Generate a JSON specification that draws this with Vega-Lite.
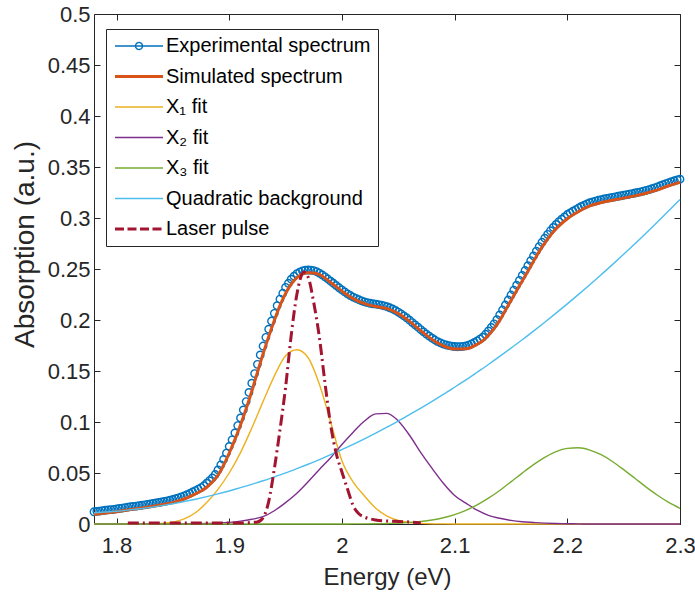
{
 "$schema": "https://vega.github.io/schema/vega-lite/v6.json",
 "width": 586, "height": 510,
 "autosize": {"type": "none"},
 "padding": {"left": 94, "top": 14, "right": 15, "bottom": 72},
 "background": "white",
 "config": {
  "view": {"stroke": "#262626", "strokeWidth": 1},
  "font": "Liberation Sans",
  "axis": {"grid": false, "domain": false, "tickColor": "#262626", "tickSize": 6, "offset": -6, "labelFlush": false, "labelColor": "#262626", "titleColor": "#262626", "labelFont": "Liberation Sans", "titleFont": "Liberation Sans", "labelFontSize": 22, "titleFontWeight": "normal"},
  "legend": {"orient": "none", "legendX": 12, "legendY": 15, "padding": 7, "strokeColor": "#262626", "fillColor": "white", "labelFontSize": 20, "labelFont": "Liberation Sans", "labelColor": "#000000", "labelLimit": 0, "symbolSize": 400, "symbolType": "M-2.4,0L2.4,0", "labelOffset": 17, "symbolOffset": 16, "rowPadding": 10.5}
 },
 "datasets": {
  "exp": [
{"E":1.7800,"A":0.0120},{"E":1.7825,"A":0.0124},{"E":1.7850,"A":0.0127},{"E":1.7875,"A":0.0131},{"E":1.7900,"A":0.0135},{"E":1.7925,"A":0.0138},{"E":1.7950,"A":0.0141},{"E":1.7975,"A":0.0144},{"E":1.8000,"A":0.0148},{"E":1.8025,"A":0.0152},{"E":1.8050,"A":0.0156},{"E":1.8075,"A":0.0161},{"E":1.8100,"A":0.0166},{"E":1.8125,"A":0.0170},{"E":1.8150,"A":0.0173},{"E":1.8175,"A":0.0176},{"E":1.8200,"A":0.0180},{"E":1.8225,"A":0.0184},{"E":1.8250,"A":0.0188},{"E":1.8275,"A":0.0192},{"E":1.8300,"A":0.0197},{"E":1.8325,"A":0.0202},{"E":1.8350,"A":0.0207},{"E":1.8375,"A":0.0212},{"E":1.8400,"A":0.0216},{"E":1.8425,"A":0.0221},{"E":1.8450,"A":0.0227},{"E":1.8475,"A":0.0233},{"E":1.8500,"A":0.0240},{"E":1.8525,"A":0.0248},{"E":1.8550,"A":0.0257},{"E":1.8575,"A":0.0266},{"E":1.8600,"A":0.0276},{"E":1.8625,"A":0.0287},{"E":1.8650,"A":0.0300},{"E":1.8675,"A":0.0314},{"E":1.8700,"A":0.0328},{"E":1.8725,"A":0.0342},{"E":1.8750,"A":0.0357},{"E":1.8775,"A":0.0375},{"E":1.8800,"A":0.0400},{"E":1.8825,"A":0.0425},{"E":1.8850,"A":0.0452},{"E":1.8875,"A":0.0485},{"E":1.8900,"A":0.0530},{"E":1.8925,"A":0.0580},{"E":1.8950,"A":0.0633},{"E":1.8975,"A":0.0695},{"E":1.9000,"A":0.0760},{"E":1.9025,"A":0.0825},{"E":1.9050,"A":0.0893},{"E":1.9075,"A":0.0965},{"E":1.9100,"A":0.1040},{"E":1.9125,"A":0.1118},{"E":1.9150,"A":0.1200},{"E":1.9175,"A":0.1290},{"E":1.9200,"A":0.1380},{"E":1.9225,"A":0.1475},{"E":1.9250,"A":0.1565},{"E":1.9275,"A":0.1658},{"E":1.9300,"A":0.1745},{"E":1.9325,"A":0.1830},{"E":1.9350,"A":0.1910},{"E":1.9375,"A":0.1990},{"E":1.9400,"A":0.2065},{"E":1.9425,"A":0.2140},{"E":1.9450,"A":0.2205},{"E":1.9475,"A":0.2262},{"E":1.9500,"A":0.2320},{"E":1.9525,"A":0.2360},{"E":1.9550,"A":0.2400},{"E":1.9575,"A":0.2430},{"E":1.9600,"A":0.2455},{"E":1.9625,"A":0.2470},{"E":1.9650,"A":0.2482},{"E":1.9675,"A":0.2488},{"E":1.9700,"A":0.2490},{"E":1.9725,"A":0.2488},{"E":1.9750,"A":0.2484},{"E":1.9775,"A":0.2475},{"E":1.9800,"A":0.2460},{"E":1.9825,"A":0.2442},{"E":1.9850,"A":0.2423},{"E":1.9875,"A":0.2402},{"E":1.9900,"A":0.2380},{"E":1.9925,"A":0.2360},{"E":1.9950,"A":0.2338},{"E":1.9975,"A":0.2316},{"E":2.0000,"A":0.2295},{"E":2.0025,"A":0.2275},{"E":2.0050,"A":0.2256},{"E":2.0075,"A":0.2240},{"E":2.0100,"A":0.2225},{"E":2.0125,"A":0.2212},{"E":2.0150,"A":0.2200},{"E":2.0175,"A":0.2188},{"E":2.0200,"A":0.2178},{"E":2.0225,"A":0.2170},{"E":2.0250,"A":0.2164},{"E":2.0275,"A":0.2159},{"E":2.0300,"A":0.2155},{"E":2.0325,"A":0.2150},{"E":2.0350,"A":0.2145},{"E":2.0375,"A":0.2138},{"E":2.0400,"A":0.2130},{"E":2.0425,"A":0.2120},{"E":2.0450,"A":0.2108},{"E":2.0475,"A":0.2094},{"E":2.0500,"A":0.2078},{"E":2.0525,"A":0.2060},{"E":2.0550,"A":0.2040},{"E":2.0575,"A":0.2020},{"E":2.0600,"A":0.1998},{"E":2.0625,"A":0.1975},{"E":2.0650,"A":0.1952},{"E":2.0675,"A":0.1930},{"E":2.0700,"A":0.1906},{"E":2.0725,"A":0.1883},{"E":2.0750,"A":0.1862},{"E":2.0775,"A":0.1842},{"E":2.0800,"A":0.1822},{"E":2.0825,"A":0.1804},{"E":2.0850,"A":0.1788},{"E":2.0875,"A":0.1775},{"E":2.0900,"A":0.1764},{"E":2.0925,"A":0.1755},{"E":2.0950,"A":0.1748},{"E":2.0975,"A":0.1743},{"E":2.1000,"A":0.1740},{"E":2.1025,"A":0.1738},{"E":2.1050,"A":0.1739},{"E":2.1075,"A":0.1742},{"E":2.1100,"A":0.1746},{"E":2.1125,"A":0.1753},{"E":2.1150,"A":0.1765},{"E":2.1175,"A":0.1780},{"E":2.1200,"A":0.1796},{"E":2.1225,"A":0.1813},{"E":2.1250,"A":0.1831},{"E":2.1275,"A":0.1860},{"E":2.1300,"A":0.1893},{"E":2.1325,"A":0.1927},{"E":2.1350,"A":0.1962},{"E":2.1375,"A":0.2003},{"E":2.1400,"A":0.2050},{"E":2.1425,"A":0.2098},{"E":2.1450,"A":0.2147},{"E":2.1475,"A":0.2196},{"E":2.1500,"A":0.2245},{"E":2.1525,"A":0.2293},{"E":2.1550,"A":0.2341},{"E":2.1575,"A":0.2389},{"E":2.1600,"A":0.2437},{"E":2.1625,"A":0.2485},{"E":2.1650,"A":0.2533},{"E":2.1675,"A":0.2581},{"E":2.1700,"A":0.2628},{"E":2.1725,"A":0.2675},{"E":2.1750,"A":0.2720},{"E":2.1775,"A":0.2762},{"E":2.1800,"A":0.2802},{"E":2.1825,"A":0.2840},{"E":2.1850,"A":0.2875},{"E":2.1875,"A":0.2907},{"E":2.1900,"A":0.2937},{"E":2.1925,"A":0.2964},{"E":2.1950,"A":0.2988},{"E":2.1975,"A":0.3010},{"E":2.2000,"A":0.3034},{"E":2.2025,"A":0.3051},{"E":2.2050,"A":0.3067},{"E":2.2075,"A":0.3083},{"E":2.2100,"A":0.3098},{"E":2.2125,"A":0.3113},{"E":2.2150,"A":0.3126},{"E":2.2175,"A":0.3138},{"E":2.2200,"A":0.3150},{"E":2.2225,"A":0.3158},{"E":2.2250,"A":0.3166},{"E":2.2275,"A":0.3174},{"E":2.2300,"A":0.3180},{"E":2.2325,"A":0.3187},{"E":2.2350,"A":0.3192},{"E":2.2375,"A":0.3197},{"E":2.2400,"A":0.3202},{"E":2.2425,"A":0.3208},{"E":2.2450,"A":0.3213},{"E":2.2475,"A":0.3218},{"E":2.2500,"A":0.3223},{"E":2.2525,"A":0.3228},{"E":2.2550,"A":0.3233},{"E":2.2575,"A":0.3239},{"E":2.2600,"A":0.3245},{"E":2.2625,"A":0.3251},{"E":2.2650,"A":0.3257},{"E":2.2675,"A":0.3264},{"E":2.2700,"A":0.3271},{"E":2.2725,"A":0.3279},{"E":2.2750,"A":0.3287},{"E":2.2775,"A":0.3296},{"E":2.2800,"A":0.3306},{"E":2.2825,"A":0.3317},{"E":2.2850,"A":0.3327},{"E":2.2875,"A":0.3337},{"E":2.2900,"A":0.3347},{"E":2.2925,"A":0.3356},{"E":2.2950,"A":0.3365},{"E":2.2975,"A":0.3373},{"E":2.3000,"A":0.3380}
  ],
  "sim": [
{"E":1.78,"A":0.0093},{"E":1.79,"A":0.0108},{"E":1.80,"A":0.0121},{"E":1.81,"A":0.0138},{"E":1.82,"A":0.0153},{"E":1.83,"A":0.0169},{"E":1.84,"A":0.0188},{"E":1.85,"A":0.0210},{"E":1.86,"A":0.0245},{"E":1.87,"A":0.0295},{"E":1.875,"A":0.0323},{"E":1.88,"A":0.0360},{"E":1.885,"A":0.0411},{"E":1.89,"A":0.0478},{"E":1.895,"A":0.0576},{"E":1.90,"A":0.0696},{"E":1.905,"A":0.0827},{"E":1.91,"A":0.0970},{"E":1.915,"A":0.1129},{"E":1.92,"A":0.1301},{"E":1.925,"A":0.1486},{"E":1.93,"A":0.1668},{"E":1.935,"A":0.1837},{"E":1.94,"A":0.1995},{"E":1.945,"A":0.2141},{"E":1.95,"A":0.2260},{"E":1.955,"A":0.2351},{"E":1.96,"A":0.2415},{"E":1.965,"A":0.2450},{"E":1.97,"A":0.2464},{"E":1.975,"A":0.2461},{"E":1.98,"A":0.2444},{"E":1.99,"A":0.2368},{"E":2.00,"A":0.2283},{"E":2.01,"A":0.2209},{"E":2.02,"A":0.2160},{"E":2.03,"A":0.2132},{"E":2.04,"A":0.2111},{"E":2.05,"A":0.2062},{"E":2.06,"A":0.1986},{"E":2.07,"A":0.1895},{"E":2.08,"A":0.1809},{"E":2.09,"A":0.1746},{"E":2.10,"A":0.1716},{"E":2.11,"A":0.1718},{"E":2.12,"A":0.1761},{"E":2.125,"A":0.1795},{"E":2.13,"A":0.1850},{"E":2.135,"A":0.1916},{"E":2.14,"A":0.1996},{"E":2.145,"A":0.2093},{"E":2.15,"A":0.2191},{"E":2.155,"A":0.2287},{"E":2.16,"A":0.2383},{"E":2.165,"A":0.2479},{"E":2.17,"A":0.2575},{"E":2.175,"A":0.2670},{"E":2.18,"A":0.2753},{"E":2.185,"A":0.2829},{"E":2.19,"A":0.2894},{"E":2.20,"A":0.2993},{"E":2.21,"A":0.3064},{"E":2.22,"A":0.3119},{"E":2.23,"A":0.3151},{"E":2.24,"A":0.3174},{"E":2.25,"A":0.3195},{"E":2.26,"A":0.3217},{"E":2.27,"A":0.3243},{"E":2.28,"A":0.3275},{"E":2.29,"A":0.3316},{"E":2.30,"A":0.3350}
  ],
  "fits": [
{"E":1.78,"x1":0,"x2":0,"x3":0,"bg":0.0110},{"E":1.79,"x1":0,"x2":0,"x3":0,"bg":0.0117},{"E":1.80,"x1":0,"x2":0,"x3":0,"bg":0.0125},{"E":1.81,"x1":0,"x2":0,"x3":0,"bg":0.0136},{"E":1.82,"x1":0.0001,"x2":0,"x3":0,"bg":0.0149},{"E":1.83,"x1":0.0002,"x2":0,"x3":0,"bg":0.0163},{"E":1.84,"x1":0.0006,"x2":0.0001,"x3":0,"bg":0.0180},{"E":1.85,"x1":0.0018,"x2":0.0001,"x3":0,"bg":0.0199},{"E":1.86,"x1":0.0050,"x2":0.0002,"x3":0,"bg":0.0220},{"E":1.87,"x1":0.0110,"x2":0.0003,"x3":0,"bg":0.0243},{"E":1.88,"x1":0.0210,"x2":0.0005,"x3":0,"bg":0.0268},{"E":1.89,"x1":0.0340,"x2":0.0009,"x3":0,"bg":0.0295},{"E":1.90,"x1":0.0500,"x2":0.0016,"x3":0,"bg":0.0324},{"E":1.91,"x1":0.0700,"x2":0.0028,"x3":0,"bg":0.0356},{"E":1.92,"x1":0.0940,"x2":0.0046,"x3":0,"bg":0.0389},{"E":1.93,"x1":0.1200,"x2":0.0072,"x3":0,"bg":0.0424},{"E":1.94,"x1":0.1450,"x2":0.0130,"x3":0,"bg":0.0462},{"E":1.95,"x1":0.1650,"x2":0.0210,"x3":0,"bg":0.0501},{"E":1.96,"x1":0.1708,"x2":0.0302,"x3":0,"bg":0.0543},{"E":1.97,"x1":0.1630,"x2":0.0415,"x3":0,"bg":0.0586},{"E":1.98,"x1":0.1370,"x2":0.0535,"x3":0,"bg":0.0632},{"E":1.99,"x1":0.1000,"x2":0.0650,"x3":0,"bg":0.0680},{"E":2.00,"x1":0.0620,"x2":0.0780,"x3":0,"bg":0.0730},{"E":2.01,"x1":0.0410,"x2":0.0900,"x3":0.0001,"bg":0.0781},{"E":2.02,"x1":0.0275,"x2":0.1010,"x3":0.0001,"bg":0.0835},{"E":2.03,"x1":0.0155,"x2":0.1080,"x3":0.0002,"bg":0.0891},{"E":2.04,"x1":0.0078,"x2":0.1085,"x3":0.0005,"bg":0.0949},{"E":2.05,"x1":0.0036,"x2":0.1010,"x3":0.0008,"bg":0.1009},{"E":2.06,"x1":0.0015,"x2":0.0870,"x3":0.0014,"bg":0.1072},{"E":2.07,"x1":0.0006,"x2":0.0700,"x3":0.0024,"bg":0.1136},{"E":2.08,"x1":0.0002,"x2":0.0545,"x3":0.0039,"bg":0.1202},{"E":2.09,"x1":0.0001,"x2":0.0400,"x3":0.0061,"bg":0.1270},{"E":2.10,"x1":0,"x2":0.0280,"x3":0.0092,"bg":0.1341},{"E":2.11,"x1":0,"x2":0.0205,"x3":0.0134,"bg":0.1413},{"E":2.12,"x1":0,"x2":0.0135,"x3":0.0187,"bg":0.1488},{"E":2.13,"x1":0,"x2":0.0085,"x3":0.0253,"bg":0.1564},{"E":2.14,"x1":0,"x2":0.0056,"x3":0.0329,"bg":0.1643},{"E":2.15,"x1":0,"x2":0.0035,"x3":0.0413,"bg":0.1724},{"E":2.16,"x1":0,"x2":0.0022,"x3":0.0499,"bg":0.1806},{"E":2.17,"x1":0,"x2":0.0015,"x3":0.0582,"bg":0.1891},{"E":2.18,"x1":0,"x2":0.0009,"x3":0.0654,"bg":0.1978},{"E":2.19,"x1":0,"x2":0.0005,"x3":0.0710,"bg":0.2067},{"E":2.20,"x1":0,"x2":0.0003,"x3":0.0741,"bg":0.2158},{"E":2.21,"x1":0,"x2":0.0001,"x3":0.0747,"bg":0.2251},{"E":2.22,"x1":0,"x2":0,"x3":0.0725,"bg":0.2346},{"E":2.23,"x1":0,"x2":0,"x3":0.0679,"bg":0.2443},{"E":2.24,"x1":0,"x2":0,"x3":0.0613,"bg":0.2543},{"E":2.25,"x1":0,"x2":0,"x3":0.0533,"bg":0.2644},{"E":2.26,"x1":0,"x2":0,"x3":0.0448,"bg":0.2747},{"E":2.27,"x1":0,"x2":0,"x3":0.0362,"bg":0.2853},{"E":2.28,"x1":0,"x2":0,"x3":0.0282,"bg":0.2960},{"E":2.29,"x1":0,"x2":0,"x3":0.0212,"bg":0.3070},{"E":2.30,"x1":0,"x2":0,"x3":0.0154,"bg":0.3181}
  ],
  "laser": [
{"E":1.810,"A":0.001},{"E":1.830,"A":0.001},{"E":1.850,"A":0.001},{"E":1.870,"A":0.001},{"E":1.890,"A":0.001},{"E":1.900,"A":0.001},{"E":1.910,"A":0.001},{"E":1.920,"A":0.0015},{"E":1.925,"A":0.002},{"E":1.930,"A":0.006},{"E":1.935,"A":0.022},{"E":1.940,"A":0.054},{"E":1.945,"A":0.092},{"E":1.950,"A":0.134},{"E":1.955,"A":0.185},{"E":1.960,"A":0.225},{"E":1.963,"A":0.240},{"E":1.966,"A":0.247},{"E":1.970,"A":0.242},{"E":1.975,"A":0.217},{"E":1.980,"A":0.183},{"E":1.985,"A":0.138},{"E":1.990,"A":0.097},{"E":1.995,"A":0.069},{"E":2.000,"A":0.051},{"E":2.005,"A":0.034},{"E":2.010,"A":0.018},{"E":2.015,"A":0.010},{"E":2.020,"A":0.0068},{"E":2.030,"A":0.004},{"E":2.040,"A":0.003},{"E":2.050,"A":0.0025},{"E":2.060,"A":0.002},{"E":2.070,"A":0.001}
  ]
 },
 "resolve": {"axis": {"x": "independent", "y": "independent"}},
 "layer": [
  {
   "data": {"name": "exp"},
   "mark": {"type": "point", "shape": "circle", "filled": false, "size": 55, "strokeWidth": 1.4, "opacity": 1},
   "encoding": {
    "x": {"field": "E", "type": "quantitative", "scale": {"domain": [1.78, 2.3], "nice": false, "zero": false},
          "axis": {"orient": "bottom", "values": [1.8, 1.9, 2.0, 2.1, 2.2, 2.3], "format": "~g", "title": "Energy (eV)", "titleFontSize": 24, "labelPadding": 11, "titlePadding": 9}},
    "y": {"field": "A", "type": "quantitative", "scale": {"domain": [0, 0.5], "nice": false, "zero": true},
          "axis": {"orient": "left", "values": [0, 0.05, 0.1, 0.15, 0.2, 0.25, 0.3, 0.35, 0.4, 0.45, 0.5], "format": "~g", "title": "Absorption (a.u.)", "titleFontSize": 28, "labelPadding": 4, "titlePadding": 8, "titleY": 230}},
    "color": {"datum": "exp", "type": "nominal",
      "scale": {"domain": ["exp", "sim", "x1", "x2", "x3", "bg", "laser"], "range": ["#0072BD", "#D95319", "#EDB120", "#7E2F8E", "#77AC30", "#4DBEEE", "#A2142F"]},
      "legend": {"title": null,
        "labelExpr": "{'exp':'Experimental spectrum','sim':'Simulated spectrum','x1':'X₁ fit','x2':'X₂ fit','x3':'X₃ fit','bg':'Quadratic background','laser':'Laser pulse'}[datum.label]",
        "encode": {"symbols": {"update": {
          "shape": {"signal": "datum.value === 'exp' ? 'M-2.4,0L2.4,0M0.35,0A0.35,0.35,0,1,1,-0.35,0A0.35,0.35,0,1,1,0.35,0' : 'M-2.4,0L2.4,0'"},
          "strokeDash": {"signal": "datum.value === 'laser' ? [9,3.5] : [1,0]"},
          "strokeWidth": {"signal": "datum.value === 'sim' || datum.value === 'laser' ? 3 : 1.4"},
          "fill": {"value": "transparent"},
          "stroke": {"scale": "color", "field": "value"},
          "opacity": {"value": 1}
        }}}}}
   }
  },
  {
   "data": {"name": "sim"},
   "mark": {"type": "line", "strokeWidth": 3, "interpolate": "monotone"},
   "encoding": {
    "x": {"field": "E", "type": "quantitative", "axis": null},
    "y": {"field": "A", "type": "quantitative", "axis": null},
    "color": {"datum": "sim", "type": "nominal",
      "legend": {"title": null,
        "labelExpr": "{'exp':'Experimental spectrum','sim':'Simulated spectrum','x1':'X₁ fit','x2':'X₂ fit','x3':'X₃ fit','bg':'Quadratic background','laser':'Laser pulse'}[datum.label]",
        "encode": {"symbols": {"update": {
          "shape": {"signal": "datum.value === 'exp' ? 'M-2.4,0L2.4,0M0.35,0A0.35,0.35,0,1,1,-0.35,0A0.35,0.35,0,1,1,0.35,0' : 'M-2.4,0L2.4,0'"},
          "strokeDash": {"signal": "datum.value === 'laser' ? [9,3.5] : [1,0]"},
          "strokeWidth": {"signal": "datum.value === 'sim' || datum.value === 'laser' ? 3 : 1.4"},
          "fill": {"value": "transparent"},
          "stroke": {"scale": "color", "field": "value"},
          "opacity": {"value": 1}
        }}}}}
   }
  },
  {
   "data": {"name": "fits"},
   "transform": [{"fold": ["x1", "x2", "x3", "bg"], "as": ["series", "A"]}],
   "mark": {"type": "line", "strokeWidth": 1.4, "interpolate": "monotone"},
   "encoding": {
    "x": {"field": "E", "type": "quantitative", "axis": null},
    "y": {"field": "A", "type": "quantitative", "axis": null},
    "color": {"field": "series", "type": "nominal",
      "legend": {"title": null,
        "labelExpr": "{'exp':'Experimental spectrum','sim':'Simulated spectrum','x1':'X₁ fit','x2':'X₂ fit','x3':'X₃ fit','bg':'Quadratic background','laser':'Laser pulse'}[datum.label]",
        "encode": {"symbols": {"update": {
          "shape": {"signal": "datum.value === 'exp' ? 'M-2.4,0L2.4,0M0.35,0A0.35,0.35,0,1,1,-0.35,0A0.35,0.35,0,1,1,0.35,0' : 'M-2.4,0L2.4,0'"},
          "strokeDash": {"signal": "datum.value === 'laser' ? [9,3.5] : [1,0]"},
          "strokeWidth": {"signal": "datum.value === 'sim' || datum.value === 'laser' ? 3 : 1.4"},
          "fill": {"value": "transparent"},
          "stroke": {"scale": "color", "field": "value"},
          "opacity": {"value": 1}
        }}}}}
   }
  },
  {
   "data": {"name": "laser"},
   "mark": {"type": "line", "strokeWidth": 3, "strokeDash": [11, 4, 2, 4], "interpolate": "monotone"},
   "encoding": {
    "x": {"field": "E", "type": "quantitative",
          "axis": {"orient": "top", "values": [1.8, 1.9, 2.0, 2.1, 2.2, 2.3], "labels": false, "title": null}},
    "y": {"field": "A", "type": "quantitative",
          "axis": {"orient": "right", "values": [0, 0.05, 0.1, 0.15, 0.2, 0.25, 0.3, 0.35, 0.4, 0.45, 0.5], "labels": false, "title": null}},
    "color": {"datum": "laser", "type": "nominal",
      "legend": {"title": null,
        "labelExpr": "{'exp':'Experimental spectrum','sim':'Simulated spectrum','x1':'X₁ fit','x2':'X₂ fit','x3':'X₃ fit','bg':'Quadratic background','laser':'Laser pulse'}[datum.label]",
        "encode": {"symbols": {"update": {
          "shape": {"signal": "datum.value === 'exp' ? 'M-2.4,0L2.4,0M0.35,0A0.35,0.35,0,1,1,-0.35,0A0.35,0.35,0,1,1,0.35,0' : 'M-2.4,0L2.4,0'"},
          "strokeDash": {"signal": "datum.value === 'laser' ? [9,3.5] : [1,0]"},
          "strokeWidth": {"signal": "datum.value === 'sim' || datum.value === 'laser' ? 3 : 1.4"},
          "fill": {"value": "transparent"},
          "stroke": {"scale": "color", "field": "value"},
          "opacity": {"value": 1}
        }}}}}
   }
  }
 ]
}
